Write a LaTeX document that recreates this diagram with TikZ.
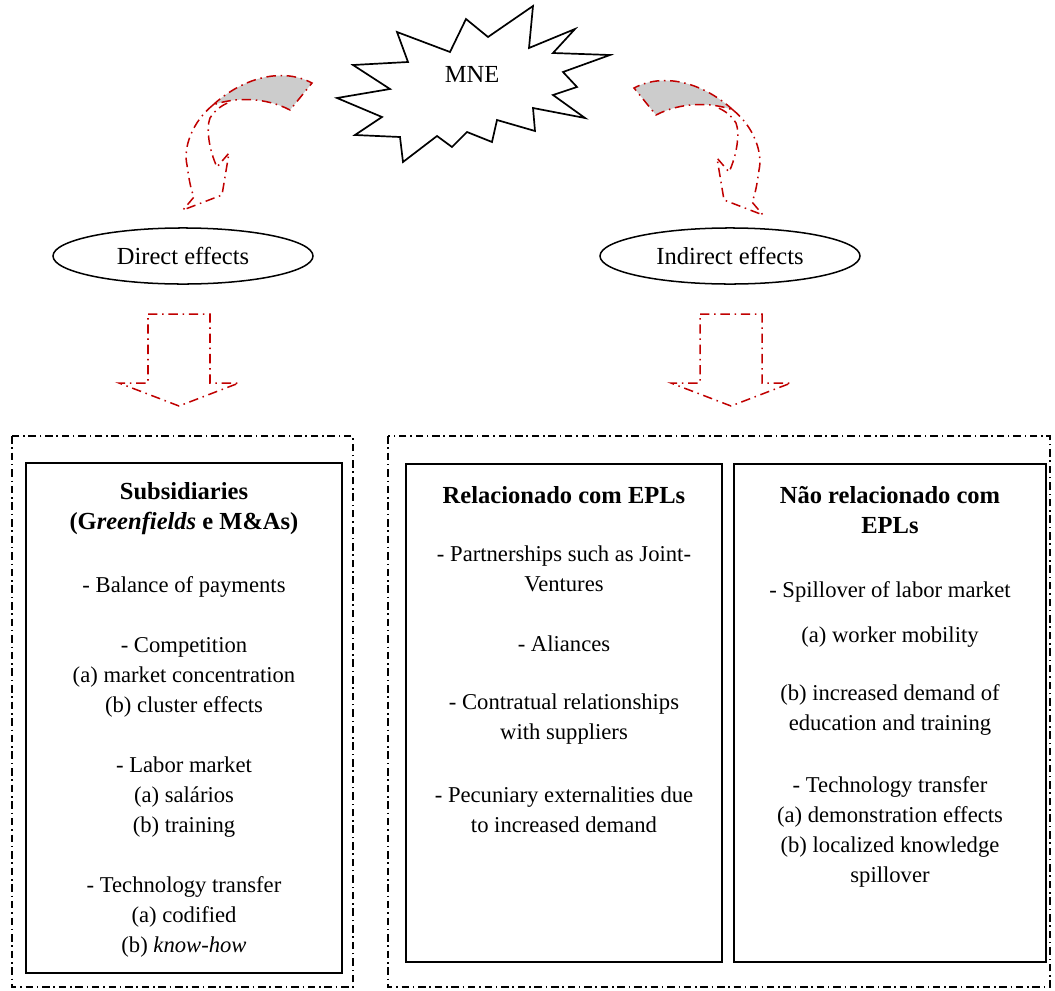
\documentclass[tikz,border=0pt]{standalone}
\usepackage{fontspec}
\setmainfont{Liberation Serif}
\usetikzlibrary{shapes.geometric}
\definecolor{arrowred}{RGB}{192,0,0}
\tikzset{
  ddbox/.style={line width=0.7pt, dash pattern=on 4pt off 2pt on 0.8pt off 2pt},
  redarr/.style={arrowred, line width=0.8pt, dash pattern=on 5pt off 2.5pt on 0.8pt off 2.5pt},
  effect/.style={draw, ellipse, line width=0.8pt, minimum width=137.8pt, minimum height=29.7pt, font=\fontsize{13}{15.9}\selectfont},
  listbox/.style={draw, line width=1pt},
  txt/.style={align=center, inner sep=0pt, font=\fontsize{12}{15.9}\selectfont},
  boxhead/.style={align=center, inner sep=0pt, font=\fontsize{13}{15.9}\selectfont\bfseries}
}
\begin{document}
\begin{tikzpicture}[x=0.53pt, y=-0.53pt]
  \useasboundingbox (0,0) rectangle (1055,990);
  % the MNE burst
  \draw[line width=0.9pt, fill=white]
    (337,98) -- (390,89) -- (353,65) -- (408,62) -- (397,32) -- (450,52)
    -- (466,19) -- (488,37) -- (533,6) -- (529,48) -- (575,29) -- (553,53)
    -- (610,55) -- (563,72) -- (577,87) -- (553,95) -- (585,118) -- (533,108)
    -- (535,131) -- (497,120) -- (492,142) -- (467,132) -- (452,147) -- (437,136)
    -- (403,162) -- (400,137) -- (355,135) -- (382,117) -- cycle;
  \node[font=\fontsize{13}{15.9}\selectfont] (mne) at (472,74) {MNE};
  % bent arrows
  \foreach \sx/\dx/\dy in {1/0/0, -1/946/5} {
    \begin{scope}[shift={(\dx,\dy)}, xscale=\sx]
      \filldraw[redarr, fill=gray!40] (213,105) .. controls (240,80) and (280,66) .. (312,83)
        -- (290,110) .. controls (265,97) and (235,97) .. (213,105) -- cycle;
      \draw[redarr] (213,105) .. controls (192,122) and (183,148) .. (187,165)
        .. controls (189,180) and (191,190) .. (194,197) -- (183,210) -- (222,195)
        -- (229,153) -- (217,167) .. controls (209,150) and (206,128) .. (210,118)
        .. controls (215,110) and (222,105) .. (230,102);
    \end{scope}
  }
  \node[effect] (direct) at (183,256) {Direct effects};
  \node[effect] (indirect) at (730,256) {Indirect effects};
  % block arrows
  \foreach \cx in {179,731}
    \draw[redarr] (\cx-31,314) -- (\cx+31,314) -- (\cx+31,383) -- (\cx+60,383)
      -- (\cx,406) -- (\cx-60,383) -- (\cx-31,383) -- cycle;
  % frames
  \draw[ddbox] (12,436) rectangle (353,987);
  \draw[ddbox] (388,436) rectangle (1050,987);
  \node[listbox, minimum width=167.5pt, minimum height=270.3pt] (subs) at (184,718) {};
  \node[listbox, minimum width=167.5pt, minimum height=263.9pt] (rel) at (564,713) {};
  \node[listbox, minimum width=165.4pt, minimum height=263.9pt] (nrel) at (890,713) {};
  % subsidiaries
  \node[boxhead] (subshead) at (184,509) {Subsidiaries\\(G\textit{reenfields} e M\&As)};
  \node[txt] (bop) at (184,587) {- Balance of payments};
  \node[txt] (compet) at (184,677) {- Competition\\(a) market concentration\\(b) cluster effects};
  \node[txt] (labor) at (184,797) {- Labor market\\(a) salários\\(b) training};
  \node[txt] (techa) at (184,916.5) {- Technology transfer\\(a) codified\\(b) \textit{know-how}};
  % related
  \node[boxhead] (relhead) at (564,495) {Relacionado com EPLs};
  \node[txt] (partner) at (564,569) {- Partnerships such as Joint-\\Ventures};
  \node[txt] (alian) at (564,644) {- Aliances};
  \node[txt] (contr) at (564,719) {- Contratual relationships\\with suppliers};
  \node[txt] (pecun) at (564,809.5) {- Pecuniary externalities due\\to increased demand};
  % not related
  \node[boxhead] (nrelhead) at (890,510) {Não relacionado com\\EPLs};
  \node[txt] (spill) at (890,592) {- Spillover of labor market};
  \node[txt] (mobil) at (890,637) {(a) worker mobility};
  \node[txt] (educ) at (890,710) {(b) increased demand of\\education and training};
  \node[txt] (techb) at (890,832) {- Technology transfer\\(a) demonstration effects\\(b) localized knowledge\\spillover};
\end{tikzpicture}
\end{document}
